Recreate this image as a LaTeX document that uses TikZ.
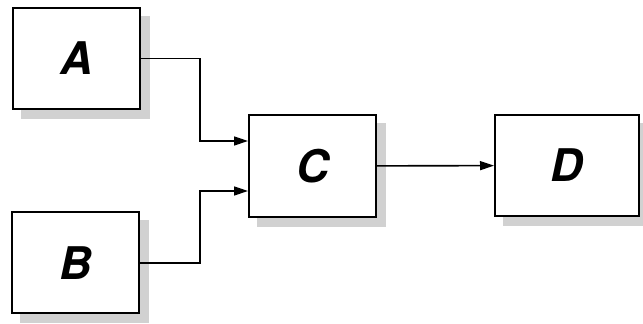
\documentclass[tikz,border=0pt]{standalone}
\usepackage{fontspec}
\newfontfamily\boxfont{TeX Gyre Heros}
\usetikzlibrary{arrows.meta}
\usetikzlibrary{backgrounds}
\tikzset{
	blk/.style={draw, line width=1pt, fill=white, inner sep=0pt,
		minimum width=63.5pt, minimum height=50.5pt,
		font=\boxfont\bfseries\itshape\fontsize{22.5}{22.5}\selectfont},
	shade/.style={fill=black!18},
	wire/.style={line width=0.8pt, -{Triangle[length=7pt,width=4.5pt]}}
}
\newcommand{\boxshadow}[1]% node name
{([xshift=4.5pt,yshift=-4.5pt]#1.south west) rectangle ([xshift=4.5pt,yshift=-4.5pt]#1.north east)
}

\begin{document}
\begin{tikzpicture}[x=0.5pt,y=0.5pt]
	\useasboundingbox (0,0) rectangle (643,324);
	\node[blk] (A) at (76.5,265.5){A};%A
	\node[blk] (B) at (75.5,61){B};%B
	\node[blk, minimum height=51pt] (C) at (312.5,158){C};%C
	\node[blk, minimum width=72pt] (D) at (567,158.5){D};%D
	\begin{scope}[on background layer]
	\fill[shade] \boxshadow{A};
	\fill[shade] \boxshadow{B};
	\fill[shade] \boxshadow{C};
	\fill[shade] \boxshadow{D};
	\end{scope}
	\draw[wire] (A.east) -- ++(59,0) |- ([yshift=12.5pt]C.west);
	\draw[wire] (B.east) -- ++(60,0) |- ([yshift=-12.5pt]C.west);
	\draw[wire] (C) -- (D);
\end{tikzpicture}
\end{document}
